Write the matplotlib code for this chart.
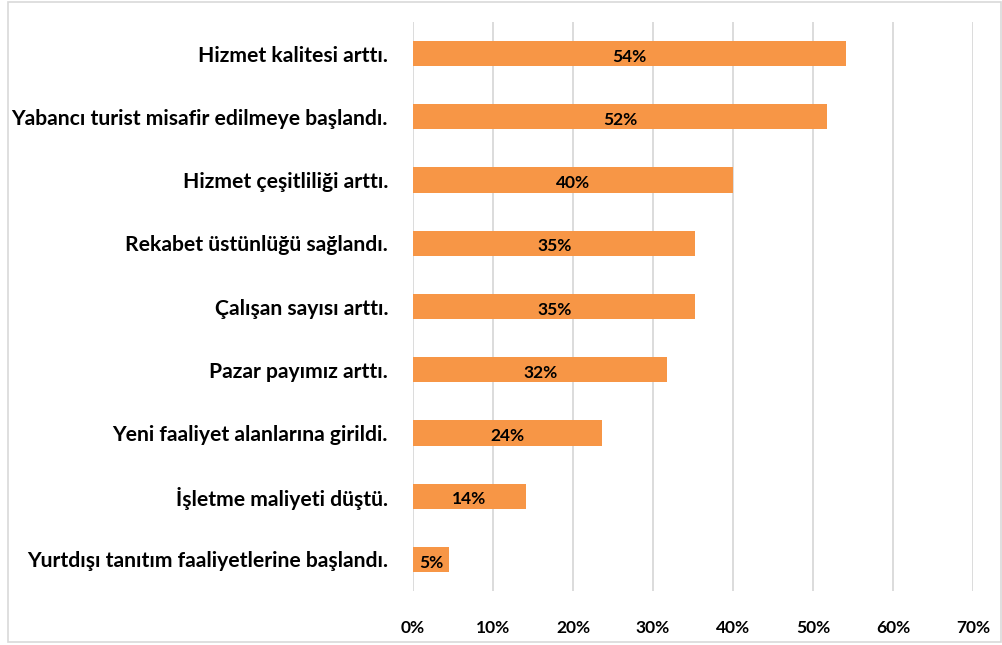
import matplotlib.pyplot as plt
from matplotlib.patches import Rectangle

categories = ["Hizmet kalitesi arttı.",
              "Yabancı turist misafir edilmeye başlandı.",
              "Hizmet çeşitliliği arttı.",
              "Rekabet üstünlüğü sağlandı.",
              "Çalışan sayısı arttı.",
              "Pazar payımız arttı.",
              "Yeni faaliyet alanlarına girildi.",
              "İşletme maliyeti düştü.",
              "Yurtdışı tanıtım faaliyetlerine başlandı."]
values = [54.1, 51.8, 40.0, 35.3, 35.3, 31.8, 23.6, 14.1, 4.5]
labels = ["54%", "52%", "40%", "35%", "35%", "32%", "24%", "14%", "5%"]
xticks = [0, 10, 20, 30, 40, 50, 60, 70]

plt.rcParams['font.family'] = ['Lato', 'DejaVu Sans']
plt.rcParams['font.weight'] = 'bold'

fig = plt.figure(figsize=(10.03, 6.45), dpi=100)
ax = fig.add_axes([0.4118, 0.0837, 0.9701 - 0.4118, 0.9659 - 0.0837])

ypos = list(range(len(categories)))
ax.barh(ypos, values, height=0.4, color="#F79646", zorder=3)
for y, v, t in zip(ypos, values, labels):
    ax.text(v / 2, y + 0.05, t, ha="center", va="center", fontsize=12.5,
            fontweight="bold", color="black", zorder=4)

ax.set_ylim(len(categories) - 0.5, -0.5)
ax.set_xlim(0, 70)
ax.set_yticks(ypos)
ax.set_yticklabels(categories, fontsize=15.2, fontweight="bold")
ax.set_xticks(xticks)
ax.set_xticklabels([f"{t}%" for t in xticks], fontsize=12.5, fontweight="bold")
ax.tick_params(axis="y", length=0, pad=18)
ax.tick_params(axis="x", length=0, pad=21)
ax.grid(axis="x", color="#D9D9D9", linewidth=1.3, zorder=0)
for s in ax.spines.values():
    s.set_visible(False)

fig.patches.append(Rectangle((0.008, 0.004), 0.99, 0.993, transform=fig.transFigure,
                             fill=False, edgecolor="#D9D9D9", linewidth=1.2))

fig.savefig("out.png", dpi=100)
